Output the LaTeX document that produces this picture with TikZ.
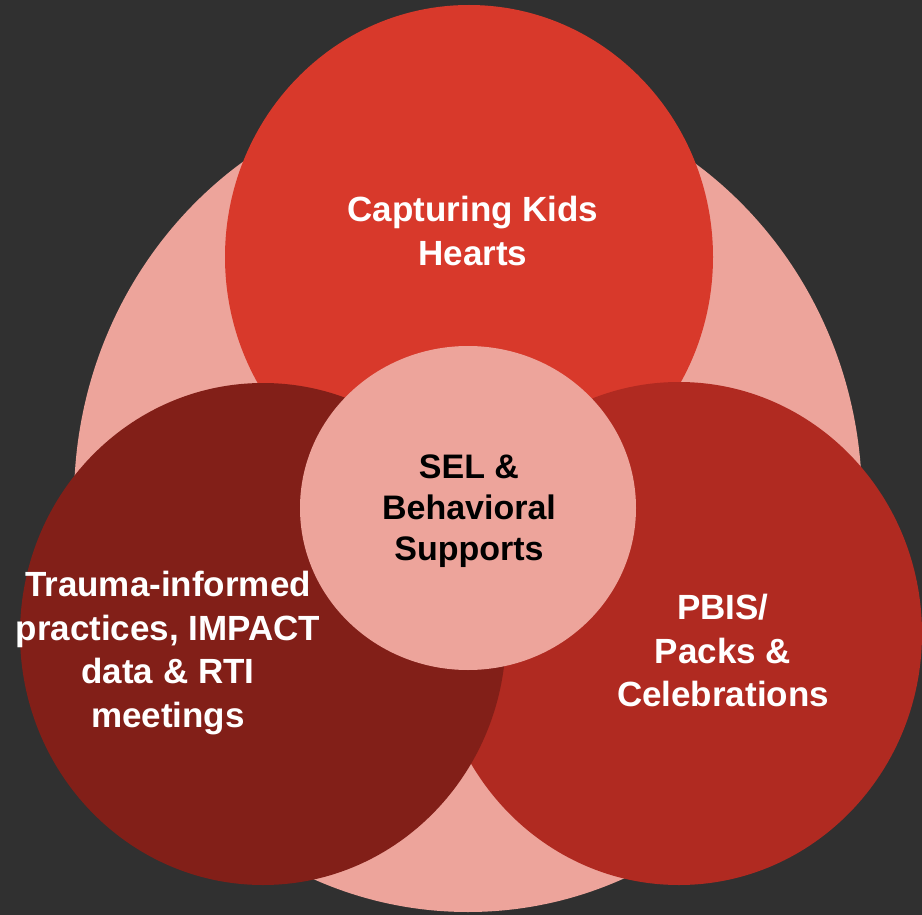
\documentclass[tikz,border=0pt]{standalone}
\usepackage{fontspec}
\setmainfont{Liberation Sans}
\usetikzlibrary{shapes.geometric}
\definecolor{bgdark}{RGB}{48,48,48}
\definecolor{pinkc}{RGB}{237,164,155}
\definecolor{topred}{RGB}{216,57,43}
\definecolor{rightred}{RGB}{176,42,33}
\definecolor{leftred}{RGB}{130,31,24}
\tikzset{
  blob/.style={ellipse, draw=none, inner sep=0pt, outer sep=0pt},
  whitelabel/.style={text=white, align=center, inner sep=0pt,
    font=\bfseries\fontsize{35}{43.5}\selectfont},
  blacklabel/.style={text=black, align=center, inner sep=0pt,
    font=\bfseries\fontsize{34}{41}\selectfont}
}
\begin{document}
\begin{tikzpicture}[x=1pt,y=-1pt]
\fill[bgdark] (0,0) rectangle (922,915);
\useasboundingbox (0,0) rectangle (922,915);
\node[blob, fill=pinkc, minimum width=788pt, minimum height=824pt] (outer) at (468,500) {};
\node[blob, fill=topred, minimum width=488pt, minimum height=504pt] (topc) at (469,257) {};
\node[blob, fill=rightred, minimum width=486pt, minimum height=503pt] (rightc) at (679,633.5) {};
\node[blob, fill=leftred, minimum width=486pt, minimum height=502pt] (leftc) at (263,634) {};
\node[blob, fill=pinkc, minimum width=336pt, minimum height=324pt] (centerc) at (468,508) {};
\node[whitelabel] (toptext) at (473,231) {Capturing Kids\\Hearts};
\node[blacklabel] (centertext) at (469,510.7) {SEL \&\\Behavioral\\Supports};
\node[whitelabel] (lefttext) at (168,653) {Trauma-informed\\practices, IMPACT\\data \& RTI\\meetings};
\node[whitelabel] (righttext) at (723,650.5) {PBIS/\\Packs \&\\Celebrations};
\end{tikzpicture}
\end{document}
